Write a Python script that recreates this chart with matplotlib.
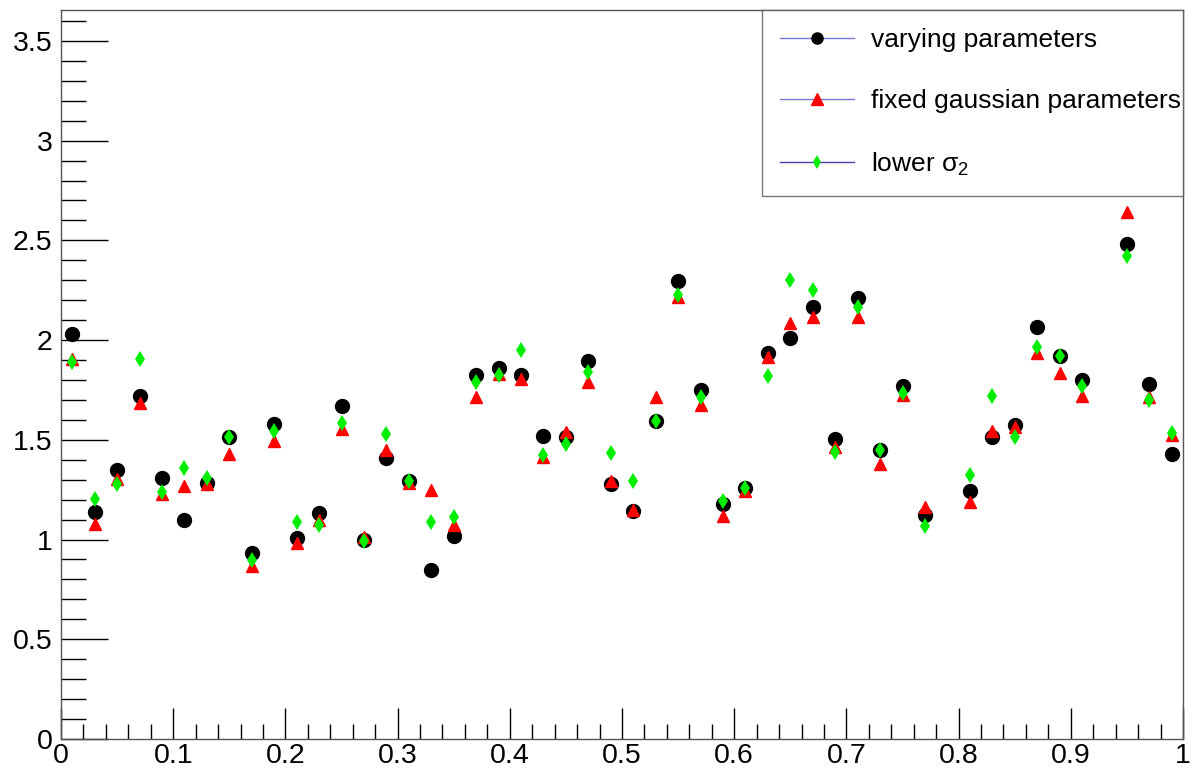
import numpy as np
import matplotlib
matplotlib.use('Agg')
import matplotlib.pyplot as plt
from matplotlib.lines import Line2D
from matplotlib.ticker import MultipleLocator

plt.rcParams['font.family'] = ['Liberation Sans', 'DejaVu Sans']
plt.rcParams['mathtext.fontset'] = 'custom'
plt.rcParams['mathtext.rm'] = 'Liberation Sans'
plt.rcParams['mathtext.it'] = 'Liberation Sans'

# x positions of the points (0.79 and 0.93 have no entry)
x_vals = [0.01, 0.03, 0.05, 0.07, 0.09, 0.11, 0.13, 0.15, 0.17, 0.19,
          0.21, 0.23, 0.25, 0.27, 0.29, 0.31, 0.33, 0.35, 0.37, 0.39,
          0.41, 0.43, 0.45, 0.47, 0.49, 0.51, 0.53, 0.55, 0.57, 0.59,
          0.61, 0.63, 0.65, 0.67, 0.69, 0.71, 0.73, 0.75, 0.77,
          0.81, 0.83, 0.85, 0.87, 0.89, 0.91, 0.95, 0.97, 0.99]

varying = [2.03, 1.14, 1.35, 1.72, 1.31, 1.10, 1.285, 1.515, 0.935, 1.58,
           1.01, 1.135, 1.67, 0.997, 1.41, 1.293, 0.847, 1.02, 1.825, 1.86,
           1.825, 1.52, 1.515, 1.895, 1.278, 1.144, 1.592, 2.295, 1.75, 1.18,
           1.258, 1.935, 2.013, 2.167, 1.502, 2.21, 1.449, 1.77, 1.123,
           1.245, 1.512, 1.574, 2.067, 1.92, 1.80, 2.48, 1.78, 1.43]

fixed_gauss = [1.903, 1.08, 1.303, 1.683, 1.228, 1.27, 1.28, 1.427, 0.867, 1.495,
               0.984, 1.098, 1.552, 1.011, 1.449, 1.282, 1.248, 1.073, 1.713, 1.83,
               1.805, 1.415, 1.54, 1.791, 1.295, 1.148, 1.713, 2.217, 1.674, 1.12,
               1.242, 1.917, 2.087, 2.117, 1.465, 2.117, 1.378, 1.724, 1.161,
               1.19, 1.545, 1.562, 1.933, 1.836, 1.719, 2.643, 1.716, 1.524]

lower_sigma2 = [1.89, 1.203, 1.277, 1.905, 1.237, 1.36, 1.308, 1.512, 0.897, 1.544,
                1.086, 1.073, 1.582, 0.994, 1.527, 1.295, 1.089, 1.111, 1.791, 1.825,
                1.95, 1.422, 1.477, 1.838, 1.432, 1.293, 1.592, 2.226, 1.713, 1.193,
                1.26, 1.82, 2.301, 2.251, 1.44, 2.167, 1.449, 1.733, 1.068,
                1.323, 1.718, 1.512, 1.963, 1.92, 1.769, 2.421, 1.699, 1.535]

fig = plt.figure(figsize=(11.92, 7.78), dpi=100)
ax = fig.add_axes([61/1192, 39/778, 1122/1192, 729/778])

ax.plot(x_vals, varying, 'o', color='black', markersize=10, linestyle='none')
ax.plot(x_vals, fixed_gauss, '^', color='red', markersize=9, linestyle='none')
ax.plot(x_vals, lower_sigma2, 'd', color='#00ee00', markersize=8.5,
        markeredgewidth=0, linestyle='none')

ax.set_xlim(0, 1)
ax.set_ylim(0, 3.655)

# ROOT-like axes: ticks inside, only left and bottom
ax.xaxis.set_major_locator(MultipleLocator(0.1))
ax.xaxis.set_minor_locator(MultipleLocator(0.02))
ax.yaxis.set_major_locator(MultipleLocator(0.5))
ax.yaxis.set_minor_locator(MultipleLocator(0.1))
ax.xaxis.set_major_formatter(plt.FuncFormatter(lambda v, p: f'{v:g}'))
ax.yaxis.set_major_formatter(plt.FuncFormatter(lambda v, p: f'{v:g}'))
ax.tick_params(which='both', direction='in', top=False, right=False,
               labelsize=20.5, color='black', width=1)
ax.tick_params(axis='x', which='major', length=22, pad=3)
ax.tick_params(axis='x', which='minor', length=11)
ax.tick_params(axis='y', which='major', length=34, pad=6)
ax.tick_params(axis='y', which='minor', length=18)
for s in ax.spines.values():
    s.set_color('#555555')
    s.set_linewidth(1)

handles = [
    Line2D([], [], color='#7777dd', lw=1, marker='o', markersize=8,
           markerfacecolor='black', markeredgecolor='black'),
    Line2D([], [], color='#7777dd', lw=1, marker='^', markersize=8,
           markerfacecolor='red', markeredgecolor='red'),
    Line2D([], [], color='#4444aa', lw=1, marker='d', markersize=7,
           markerfacecolor='#00ee00', markeredgewidth=0),
]
labels = ['varying parameters', 'fixed gaussian parameters', r'lower $\sigma_{2}$']
leg = fig.legend(handles, labels, loc='upper left',
                 bbox_to_anchor=(762/1192, 587/778, 421/1192, 181/778),
                 mode='expand', fontsize=19, frameon=True, fancybox=False,
                 shadow=False, handlelength=2.8, handletextpad=0.62,
                 labelspacing=1.4, borderpad=0.7, borderaxespad=0)
leg.get_frame().set_edgecolor('#555555')
leg.get_frame().set_linewidth(1)

plt.savefig('out.png', dpi=100)
